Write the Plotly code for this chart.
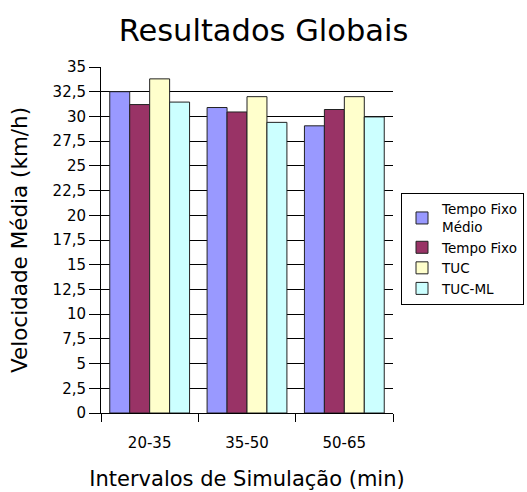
import plotly.graph_objects as go

categories = ["20-35", "35-50", "50-65"]
series_names = ["Tempo Fixo<br>Médio", "Tempo Fixo", "TUC", "TUC-ML"]
tempo_fixo_medio = [32.5, 30.9, 29.05]
tempo_fixo = [31.2, 30.45, 30.7]
tuc = [33.8, 32.0, 32.0]
tuc_ml = [31.45, 29.4, 29.95]
colors = ["#9999FF", "#993366", "#FFFFCC", "#CCFFFF"]

font_family = "DejaVu Sans"
fig = go.Figure()
for name, vals, col in zip(series_names, [tempo_fixo_medio, tempo_fixo, tuc, tuc_ml], colors):
    fig.add_trace(go.Bar(x=categories, y=vals, name=name,
                         marker=dict(color=col, line=dict(color="#222222", width=1))))

fig.update_layout(
    width=527, height=492,
    margin=dict(l=101, r=134, t=67, b=79, autoexpand=False),
    paper_bgcolor="white", plot_bgcolor="white",
    barmode="group", bargap=0.18, bargroupgap=0,
    separators=",.",
    font=dict(family=font_family, color="#000000"),
    title=dict(text="Resultados Globais", x=0.5, xanchor="center", y=1 - 30 / 492, yanchor="middle",
               font=dict(size=30.5, family=font_family, color="#000000")),
    legend=dict(x=(401 - 101) / 292, y=(412.7 - 193) / 345.4, xanchor="left", yanchor="top",
                bordercolor="#000000", borderwidth=1, bgcolor="white",
                font=dict(size=13.5, family=font_family), itemwidth=30),
    showlegend=True,
)
fig.update_xaxes(
    automargin=False,
    showline=True, linecolor="#000000", linewidth=1,
    ticks="outside", tickson="boundaries", ticklen=8, tickcolor="#000000",
    ticklabelstandoff=16,
    tickfont=dict(size=15, family=font_family),
    title=dict(text="Intervalos de Simulação (min)", font=dict(size=21, family=font_family), standoff=20),
    showgrid=False,
)
fig.update_yaxes(
    automargin=False,
    range=[0, 35], dtick=2.5, tick0=0,
    showline=True, linecolor="#000000", linewidth=1,
    ticks="outside", ticklen=11, tickcolor="#000000",
    tickfont=dict(size=15, family=font_family),
    showgrid=True, gridcolor="#000000", gridwidth=1,
    zeroline=False,
    title=dict(text="Velocidade Média (km/h)", font=dict(size=21.5, family=font_family), standoff=19),
)
fig.write_html("out.html", post_script="document.body.style.margin='0';",
               config={"displayModeBar": False})
